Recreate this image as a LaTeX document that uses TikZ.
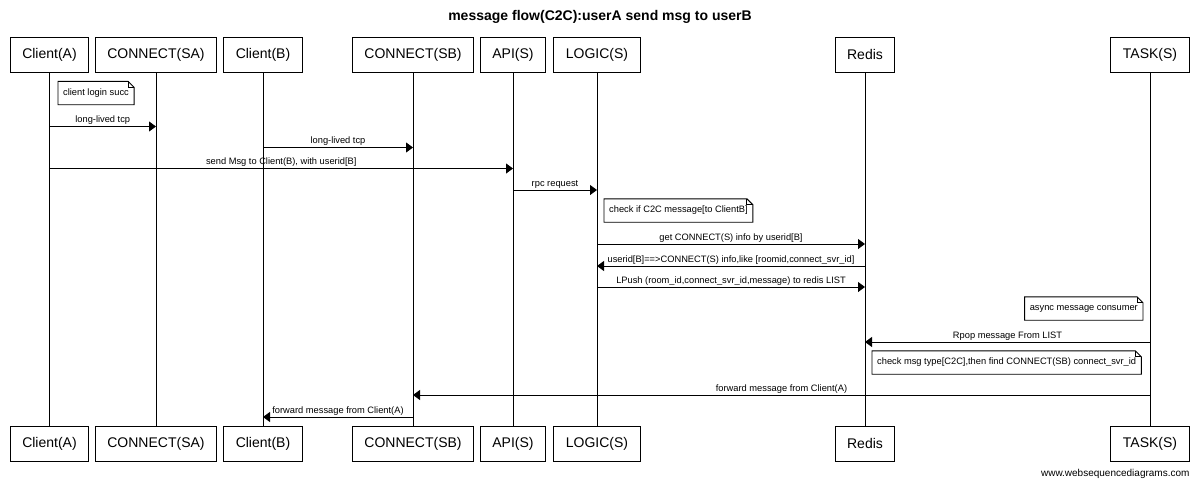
\documentclass[tikz,border=0pt]{standalone}
\usepackage{fontspec}
\setmainfont{Liberation Sans}
\usetikzlibrary{arrows.meta}

\begin{document}
\begin{tikzpicture}[x=1pt, y=-1pt,
  actor/.style={draw, line width=0.9pt, minimum height=35pt, inner xsep=12pt, font=\fontsize{14}{16}\selectfont},
  life/.style={line width=0.9pt},
  msg/.style={line width=0.9pt, -{Triangle[length=7pt,width=10pt]}},
  lbl/.style={above, inner sep=1.5pt, font=\fontsize{9.3}{11}\selectfont},
  note/.style={inner xsep=5pt, minimum height=23pt, font=\fontsize{9.3}{11}\selectfont}]
  \useasboundingbox (0,0) rectangle (1200,485);

  \node[font=\bfseries\fontsize{14}{16}\selectfont] (title) at (600,17) {message flow(C2C):userA send msg to userB};

  % participants, top row
  \node[actor] (ca) at (49.5,54.5) {Client(A)};
  \node[actor] (sa) at (156,54.5) {CONNECT(SA)};
  \node[actor] (cb) at (263,54.5) {Client(B)};
  \node[actor] (sb) at (413,54.5) {CONNECT(SB)};
  \node[actor] (api) at (513,54.5) {API(S)};
  \node[actor] (logic) at (597,54.5) {LOGIC(S)};
  \node[actor] (redis) at (865,54.5) {Redis};
  \node[actor] (task) at (1150,54.5) {TASK(S)};

  % participants, bottom row
  \node[actor] (ca2) at (49.5,443.5) {Client(A)};
  \node[actor] (sa2) at (156,443.5) {CONNECT(SA)};
  \node[actor] (cb2) at (263,443.5) {Client(B)};
  \node[actor] (sb2) at (413,443.5) {CONNECT(SB)};
  \node[actor] (api2) at (513,443.5) {API(S)};
  \node[actor] (logic2) at (597,443.5) {LOGIC(S)};
  \node[actor] (redis2) at (865,443.5) {Redis};
  \node[actor] (task2) at (1150,443.5) {TASK(S)};

  \foreach \p in {ca,sa,cb,sb,api,logic,redis,task}
    \draw[life] (\p) -- (\p2);

  % notes
  \node[note, anchor=west] (n1) at (58,93) {client login succ};
  \node[note, anchor=west] (n2) at (604,210.5) {check if C2C message[to ClientB]};
  \node[note, anchor=east] (n3) at (1143,308.5) {async message consumer};
  \node[note, anchor=west] (n4) at (872,362.5) {check msg type[C2C],then find CONNECT(SB) connect\_svr\_id};

  \foreach \n in {n1,n2,n3,n4} {
    \draw[life] (\n.south west) -- (\n.south east) -- ([yshift=-6pt]\n.north east)
      -- ([xshift=-6pt]\n.north east) -- (\n.north west) -- cycle;
    \draw[life] ([xshift=-6pt]\n.north east) |- ([yshift=-6pt]\n.north east);
  }

  % messages
  \draw[msg] (ca |- 0,126.5) -- node[lbl] {long-lived tcp} (sa |- 0,126.5);
  \draw[msg] (cb |- 0,147.5) -- node[lbl] {long-lived tcp} (sb |- 0,147.5);
  \draw[msg] (ca |- 0,168.5) -- node[lbl] {send Msg to Client(B), with userid[B]} (api |- 0,168.5);
  \draw[msg] (api |- 0,190) -- node[lbl] {rpc request} (logic |- 0,190);
  \draw[msg] (logic |- 0,244) -- node[lbl] {get CONNECT(S) info by userid[B]} (redis |- 0,244);
  \draw[msg] (redis |- 0,266) -- node[lbl] {userid[B]==>CONNECT(S) info,like [roomid,connect\_svr\_id]} (logic |- 0,266);
  \draw[msg] (logic |- 0,287) -- node[lbl] {LPush (room\_id,connect\_svr\_id,message) to redis LIST} (redis |- 0,287);
  \draw[msg] (task |- 0,342) -- node[lbl] {Rpop message From LIST} (redis |- 0,342);
  \draw[msg] (task |- 0,395) -- node[lbl] {forward message from Client(A)} (sb |- 0,395);
  \draw[msg] (sb |- 0,417) -- node[lbl] {forward message from Client(A)} (cb |- 0,417);

  \node[font=\fontsize{10}{12}\selectfont, anchor=east] (wsd) at (1193,474) {www.websequencediagrams.com};
\end{tikzpicture}
\end{document}
